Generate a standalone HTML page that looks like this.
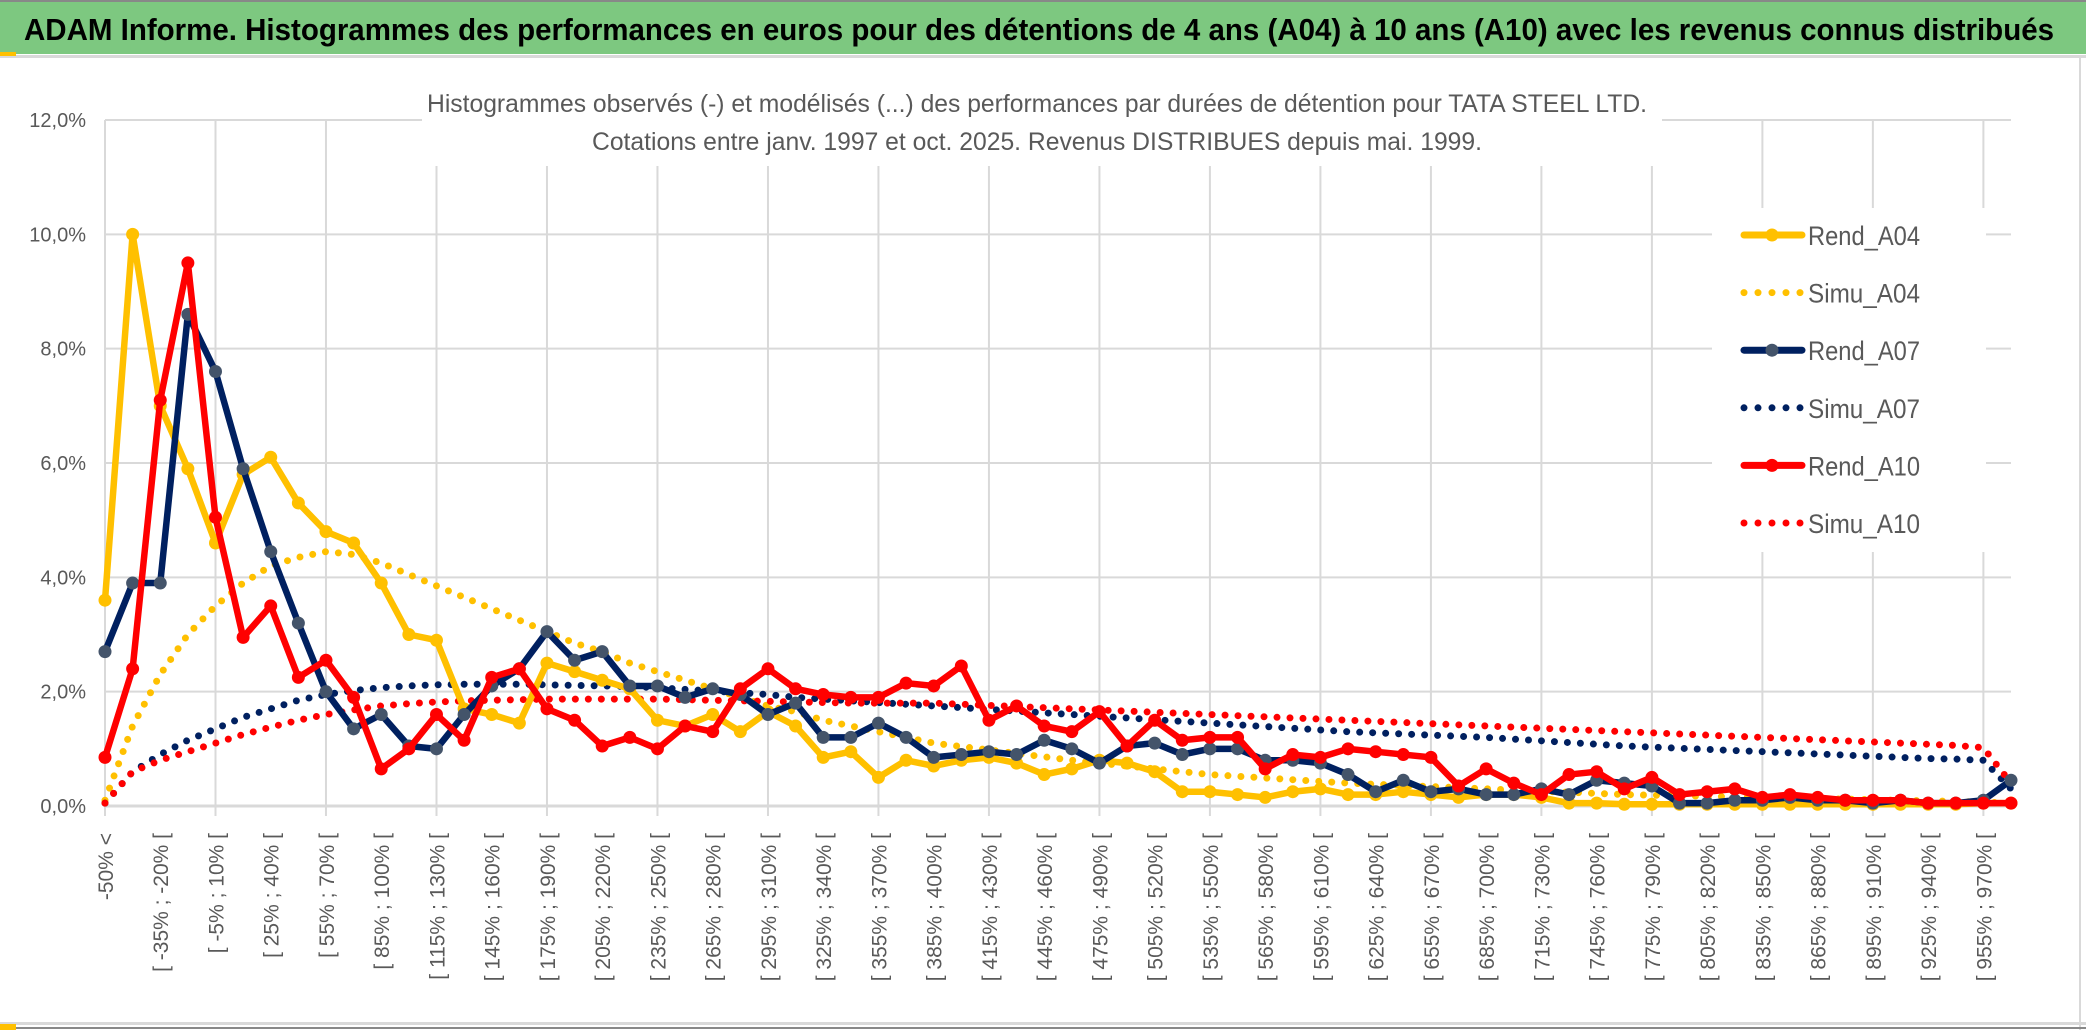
<!DOCTYPE html>
<html><head><meta charset="utf-8"><style>
body{margin:0;background:#fff;}
#wrap{position:relative;width:2086px;height:1033px;overflow:hidden;font-family:"Liberation Sans",sans-serif;}
</style></head><body>
<div id="wrap">
<svg id="svg" width="2086" height="1033">
<rect x="0" y="0" width="2086" height="54" fill="#7dc880"/>
<rect x="0" y="0" width="2086" height="2" fill="#888"/>
<rect x="0" y="55" width="2086" height="3" fill="#d9d9d9"/>
<rect x="0" y="52" width="16" height="4" fill="#ffc000"/>
<rect x="2079" y="55" width="2" height="975" fill="#d9d9d9"/>
<rect x="0" y="1022" width="2086" height="3" fill="#d9d9d9"/>
<rect x="0" y="1027" width="2086" height="2" fill="#888"/>
<rect x="0" y="1024" width="16" height="6" fill="#ffc000"/>
<text x="24" y="40" font-size="31" font-weight="bold" fill="#000" textLength="2030" lengthAdjust="spacingAndGlyphs">ADAM Informe. Histogrammes des performances en euros pour des détentions de 4 ans (A04) à 10 ans (A10) avec les revenus connus distribués</text>
<g id="grid"></g>
<rect x="422" y="80" width="1240" height="86" fill="#fff"/>
<text x="1037" y="112" font-size="25" fill="#595959" text-anchor="middle" textLength="1220" lengthAdjust="spacingAndGlyphs">Histogrammes observés (-) et modélisés (...) des performances par durées de détention pour TATA STEEL LTD.</text>
<text x="1037" y="150" font-size="25" fill="#595959" text-anchor="middle" textLength="890" lengthAdjust="spacingAndGlyphs">Cotations entre janv. 1997 et oct. 2025. Revenus DISTRIBUES depuis mai. 1999.</text>
<g id="series"></g>
<g id="legend"></g>
</svg>
</div>
<script>
const rendA04=[3.6,10.0,7.0,5.9,4.6,5.8,6.1,5.3,4.8,4.6,3.9,3.0,2.9,1.7,1.6,1.45,2.5,2.35,2.2,2.05,1.5,1.4,1.6,1.3,1.65,1.4,0.85,0.95,0.5,0.8,0.7,0.8,0.85,0.75,0.55,0.65,0.8,0.75,0.6,0.25,0.25,0.2,0.15,0.25,0.3,0.2,0.2,0.25,0.2,0.15,0.2,0.2,0.15,0.05,0.05,0.03,0.03,0.03,0.03,0.03,0.03,0.03,0.03,0.03,0.03,0.03,0.03,0.03,0.05,0.05];
const rendA07=[2.7,3.9,3.9,8.6,7.6,5.9,4.45,3.2,2.0,1.35,1.6,1.05,1.0,1.6,2.1,2.4,3.05,2.55,2.7,2.1,2.1,1.9,2.05,1.95,1.6,1.8,1.2,1.2,1.45,1.2,0.85,0.9,0.95,0.9,1.15,1.0,0.75,1.05,1.1,0.9,1.0,1.0,0.8,0.8,0.75,0.55,0.25,0.45,0.25,0.3,0.2,0.2,0.3,0.2,0.45,0.4,0.35,0.05,0.05,0.1,0.1,0.15,0.1,0.1,0.05,0.1,0.05,0.05,0.1,0.45];
const rendA10=[0.85,2.4,7.1,9.5,5.05,2.95,3.5,2.25,2.55,1.9,0.65,1.0,1.6,1.15,2.25,2.4,1.7,1.5,1.05,1.2,1.0,1.4,1.3,2.05,2.4,2.05,1.95,1.9,1.9,2.15,2.1,2.45,1.5,1.75,1.4,1.3,1.65,1.05,1.5,1.15,1.2,1.2,0.65,0.9,0.85,1.0,0.95,0.9,0.85,0.35,0.65,0.4,0.2,0.55,0.6,0.3,0.5,0.2,0.25,0.3,0.15,0.2,0.15,0.1,0.1,0.1,0.05,0.05,0.05,0.05];
const simuA04=[0.1,1.4,2.3,3.0,3.5,3.9,4.2,4.35,4.45,4.4,4.25,4.05,3.85,3.65,3.45,3.25,3.05,2.85,2.7,2.5,2.35,2.2,2.05,1.9,1.75,1.65,1.5,1.4,1.3,1.2,1.1,1.04,0.98,0.92,0.86,0.8,0.75,0.7,0.65,0.6,0.55,0.52,0.49,0.46,0.43,0.4,0.38,0.36,0.34,0.32,0.3,0.28,0.26,0.24,0.22,0.2,0.19,0.18,0.17,0.16,0.15,0.14,0.13,0.12,0.11,0.1,0.09,0.08,0.07,0.05];
const simuA07=[0.05,0.6,0.9,1.15,1.35,1.55,1.7,1.85,1.95,2.02,2.07,2.1,2.12,2.13,2.13,2.13,2.12,2.11,2.1,2.09,2.07,2.04,2.01,1.98,1.95,1.9,1.87,1.84,1.81,1.78,1.75,1.72,1.69,1.66,1.63,1.6,1.57,1.54,1.51,1.48,1.45,1.42,1.39,1.36,1.33,1.3,1.28,1.26,1.24,1.22,1.2,1.17,1.14,1.11,1.08,1.05,1.03,1.01,0.99,0.97,0.95,0.93,0.91,0.89,0.87,0.85,0.83,0.82,0.8,0.3];
const simuA10=[0.05,0.6,0.8,0.95,1.1,1.25,1.38,1.5,1.6,1.68,1.75,1.79,1.82,1.84,1.85,1.86,1.87,1.87,1.87,1.87,1.87,1.86,1.85,1.84,1.83,1.82,1.81,1.8,1.8,1.8,1.8,1.78,1.76,1.74,1.72,1.7,1.68,1.66,1.64,1.62,1.6,1.58,1.56,1.54,1.52,1.5,1.48,1.46,1.44,1.42,1.4,1.38,1.36,1.34,1.32,1.3,1.28,1.26,1.24,1.22,1.2,1.18,1.16,1.14,1.12,1.1,1.08,1.06,1.02,0.4];
const yTicks=[0,2,4,6,8,10,12];
const seriesNames=["Rend_A04","Simu_A04","Rend_A07","Simu_A07","Rend_A10","Simu_A10"];

const NS="http://www.w3.org/2000/svg";
const N=rendA04.length;
const X0=105,X1=2011,Y0=806,Y12=120;
function xs(i){return X0+(X1-X0)*i/(N-1);}
function ys(v){return Y0-(Y0-Y12)*v/12;}
function mk(tag,attrs,parent){const e=document.createElementNS(NS,tag);for(const k in attrs)e.setAttribute(k,attrs[k]);parent.appendChild(e);return e;}
const grid=document.getElementById('grid');
yTicks.forEach(t=>{
  const l=mk('line',{x1:X0,x2:X1,y1:ys(t),y2:ys(t),stroke:'#d9d9d9','stroke-width':t===0?3:2},grid);
  
  
  const tx=mk('text',{x:86,y:ys(t)+7,'font-size':20,fill:'#595959','text-anchor':'end'},grid);
  
  
  tx.textContent=t.toFixed(1).replace('.',',')+'%';
});
for(let i=0;i<N;i+=4){
  const l=mk('line',{x1:xs(i),x2:xs(i),y1:Y12,y2:Y0+10,stroke:'#d9d9d9','stroke-width':2},grid);
  
  
}
const catLabels=[];
for(let i=0;i<N;i++){catLabels.push(i===0?'-50% <':'[ '+(-50+15*(i-1))+'% ; '+(-35+15*(i-1))+'% [');}
for(let i=0;i<N;i+=2){
  const x=xs(i)+8,y=833;
  const tx=mk('text',{x:x,y:y,'font-size':21,fill:'#595959','text-anchor':'end',transform:`rotate(-90 ${x} ${y})`},grid);
  
  
  tx.textContent=catLabels[i];
}
const sg=document.getElementById('series');
function pts(a){return a.map((v,i)=>xs(i)+','+ys(v)).join(' ');}
function dotted(a,color,name){
  const p=mk('polyline',{points:pts(a),fill:'none',stroke:color,'stroke-width':7,'stroke-linecap':'round','stroke-dasharray':'0 13'},sg);
  
  
}
function solid(a,color,mcolor,name){
  const g=mk('g',{},sg);
  
  
  mk('polyline',{points:pts(a),fill:'none',stroke:color,'stroke-width':6.5,'stroke-linejoin':'round'},g);
  a.forEach((v,i)=>{
    const c=mk('circle',{cx:xs(i),cy:ys(v),r:6.5,fill:mcolor},g);
    
    
  });
}
dotted(simuA04,'#ffc000','simu-a04-line');
dotted(simuA07,'#002060','simu-a07-line');
dotted(simuA10,'#ff0000','simu-a10-line');
solid(rendA04,'#ffc000','#ffc000','rend-a04-line');
solid(rendA07,'#002060','#44546a','rend-a07-line');
solid(rendA10,'#ff0000','#ff0000','rend-a10-line');
const lg=document.getElementById('legend');
const bg=mk('rect',{x:1712,y:208,width:274,height:344,fill:'#fff'},lg);


const lc=['#ffc000','#ffc000','#002060','#002060','#ff0000','#ff0000'];
const lm=['#ffc000',null,'#44546a',null,'#ff0000',null];
seriesNames.forEach((n,k)=>{
  const y=235+k*57.6;
  const g=mk('g',{},lg);
  
  
  if(lm[k]){
    mk('line',{x1:1744,x2:1802,y1:y,y2:y,stroke:lc[k],'stroke-width':7,'stroke-linecap':'round'},g);
    mk('circle',{cx:1772,cy:y,r:6.5,fill:lm[k]},g);
  }else{
    mk('line',{x1:1744,x2:1802,y1:y,y2:y,stroke:lc[k],'stroke-width':7,'stroke-linecap':'round','stroke-dasharray':'0 14'},g);
  }
  const t=mk('text',{x:1808,y:y+10,'font-size':27,fill:'#595959',textLength:'112',lengthAdjust:'spacingAndGlyphs'},g);
  t.textContent=n;
});
</script>
</body></html>
